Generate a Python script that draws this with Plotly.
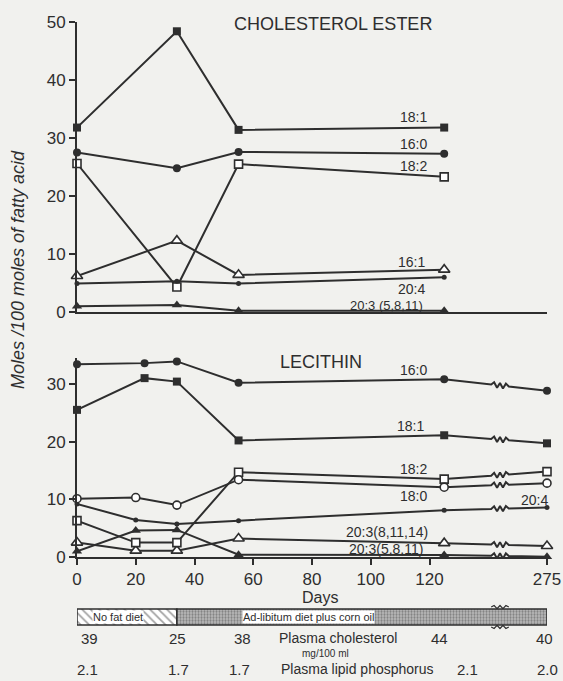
import plotly.graph_objects as go

# ---------------- data ----------------
ce_days = [0, 34, 55, 125]
ce_181 = [31.8, 48.4, 31.4, 31.8]
ce_160 = [27.5, 24.8, 27.6, 27.3]
ce_182 = [25.6, 4.3, 25.5, 23.3]
ce_161 = [6.2, 12.3, 6.4, 7.3]
ce_204 = [4.9, 5.3, 4.9, 6.0]
ce_203_5811 = [1.0, 1.2, 0.2, 0.2]

lec_days_a = [0, 23, 34, 55, 125, 275]
lec_days_b = [0, 20, 34, 55, 125, 275]
lec_160 = [33.4, 33.6, 33.9, 30.2, 30.8, 28.8]
lec_181 = [25.5, 31.0, 30.4, 20.2, 21.1, 19.7]
lec_182 = [6.3, 2.5, 2.5, 14.7, 13.5, 14.8]
lec_180 = [10.1, 10.3, 9.0, 13.4, 12.1, 12.8]
lec_204 = [9.2, 6.4, 5.7, 6.3, 8.1, 8.6]
lec_203_81114 = [2.5, 1.1, 1.1, 3.2, 2.4, 1.9]
lec_203_5811 = [1.0, 4.6, 4.7, 0.4, 0.35, 0.05]

x_tick_days = [0, 20, 40, 60, 80, 100, 120, 275]

diet_names = ["No fat diet", "Ad-libitum diet plus corn oil"]
diet_start = [0, 34]
diet_end = [34, 275]

plasma_chol_lbl = ["39", "25", "38", "44", "40"]
phos_lbl = ["2.1", "1.7", "1.7", "2.1", "2.0"]

# ---------------- broken axis scale ----------------
BREAK_AT = 125      # last day drawn on the linear part
BROKEN_POS = 160    # axis position used for day 275
ZIG_X0, ZIG_STEP = 141.0, 1.0
ZIG = [0, 1, -1, 1, -1, 1, 0]


def pos(d):
    return d if d <= BREAK_AT else BROKEN_POS


def broken_line(days, vals, amp):
    xs, ys = [], []
    for i, (d, v) in enumerate(zip(days, vals)):
        if i > 0 and days[i - 1] <= BREAK_AT < d:
            x0, y0 = pos(days[i - 1]), vals[i - 1]
            x1, y1 = pos(d), v
            for k, off in enumerate(ZIG):
                xz = ZIG_X0 + k * ZIG_STEP
                yz = y0 + (y1 - y0) * (xz - x0) / (x1 - x0) + off * amp
                xs.append(xz)
                ys.append(yz)
        xs.append(pos(d))
        ys.append(v)
    return xs, ys


INK = "#2e2e2e"
PAPER = "#f1f1ee"
FONT = "Liberation Sans, Arial, sans-serif"

fig = go.Figure()

MK = {
    "fsq": dict(symbol="square", size=8, color=INK),
    "fci": dict(symbol="circle", size=8, color=INK),
    "osq": dict(symbol="square", size=8, color="white", line=dict(color=INK, width=1.6)),
    "oci": dict(symbol="circle", size=8, color="white", line=dict(color=INK, width=1.6)),
    "otr": dict(symbol="triangle-up", size=10, color="white", line=dict(color=INK, width=1.6)),
    "ftr": dict(symbol="triangle-up", size=9, color=INK),
    "dot": dict(symbol="circle", size=5, color=INK),
}


def add_series(days, vals, mk, xa, ya, amp=None):
    if amp is None:
        xs, ys = [pos(d) for d in days], vals
    else:
        xs, ys = broken_line(days, vals, amp)
    fig.add_trace(go.Scatter(x=xs, y=ys, mode="lines", line=dict(color=INK, width=2),
                             xaxis=xa, yaxis=ya, showlegend=False, hoverinfo="skip"))
    fig.add_trace(go.Scatter(x=[pos(d) for d in days], y=vals, mode="markers",
                             marker=MK[mk], xaxis=xa, yaxis=ya, cliponaxis=False,
                             showlegend=False))


# top panel
add_series(ce_days, ce_181, "fsq", "x", "y")
add_series(ce_days, ce_160, "fci", "x", "y")
add_series(ce_days, ce_182, "osq", "x", "y")
add_series(ce_days, ce_161, "otr", "x", "y")
add_series(ce_days, ce_204, "dot", "x", "y")
add_series(ce_days, ce_203_5811, "ftr", "x", "y")

# bottom panel
A = 0.45
add_series(lec_days_a, lec_160, "fci", "x2", "y2", A)
add_series(lec_days_a, lec_181, "fsq", "x2", "y2", A)
add_series(lec_days_b, lec_204, "dot", "x2", "y2", A)
add_series(lec_days_b, lec_203_5811, "ftr", "x2", "y2", A)
add_series(lec_days_b, lec_203_81114, "otr", "x2", "y2", A)
add_series(lec_days_b, lec_182, "osq", "x2", "y2", A)
add_series(lec_days_b, lec_180, "oci", "x2", "y2", A)

# diet bar
fig.add_trace(go.Bar(
    y=[0, 0], base=[pos(s) for s in diet_start],
    x=[pos(e) - pos(s) for s, e in zip(diet_start, diet_end)],
    orientation="h", width=1, xaxis="x3", yaxis="y3", showlegend=False,
    marker=dict(color=["white", "#bdbdbd"], line=dict(color=INK, width=1.5),
                pattern=dict(shape=["\\", "."], size=[6, 3], solidity=[0.3, 0.45],
                             fgcolor=[INK, "#5a5a5a"], bgcolor=["white", "#d4d4d4"])),
))
# break marks on the diet bar (above top edge and below bottom edge)
for sgn in (1, -1):
    xs = [ZIG_X0 + k * ZIG_STEP for k in range(len(ZIG))]
    ys = [sgn * (0.5 + 0.12 + 0.1 * off) for off in ZIG]
    fig.add_trace(go.Scatter(x=xs, y=ys, mode="lines", line=dict(color=INK, width=1.2),
                             xaxis="x3", yaxis="y3", showlegend=False, hoverinfo="skip"))

XD = [77 / 563, 547 / 563]
axis_common = dict(showline=True, linecolor=INK, linewidth=2, showgrid=False, zeroline=False,
                   automargin=False, tickfont=dict(family=FONT, size=17, color=INK))

Y2MAX = 34.5
fig.update_layout(
    width=563, height=681, autosize=False,
    margin=dict(l=0, r=0, t=0, b=0, pad=0),
    paper_bgcolor=PAPER, plot_bgcolor=PAPER,
    barmode="overlay",
    font=dict(family=FONT, color=INK),
    xaxis=dict(domain=XD, range=[0, BROKEN_POS], anchor="y", showticklabels=False,
               ticks="", **axis_common),
    yaxis=dict(domain=[(681 - 312) / 681, (681 - 22) / 681], range=[0, 50], anchor="x",
               tickvals=[0, 10, 20, 30, 40, 50], ticks="outside", ticklen=6, tickwidth=2,
               tickcolor=INK, **axis_common),
    xaxis2=dict(domain=XD, range=[0, BROKEN_POS], anchor="y2",
                tickvals=[pos(d) for d in x_tick_days], ticktext=[str(d) for d in x_tick_days],
                ticks="outside", ticklen=6, tickwidth=2, tickcolor=INK, **axis_common),
    yaxis2=dict(domain=[(681 - 557) / 681, (681 - (557 - Y2MAX * 5.77)) / 681],
                range=[0, Y2MAX], anchor="x2",
                tickvals=[0, 10, 20, 30], ticks="outside", ticklen=6, tickwidth=2,
                tickcolor=INK, **axis_common),
    xaxis3=dict(domain=XD, range=[0, BROKEN_POS], anchor="y3", visible=False),
    yaxis3=dict(domain=[(681 - 629.8) / 681, (681 - 604.2) / 681], range=[-0.8, 0.8],
                anchor="x3", visible=False),
)

ann = []


def lab(text, x, y, xref, yref, size=14, **kw):
    ann.append(dict(text=text, x=x, y=y, xref=xref, yref=yref, showarrow=False,
                    xanchor="center", yanchor="middle",
                    font=dict(family=FONT, size=size, color=INK), **kw))


# panel titles
lab("CHOLESTEROL ESTER", 87, 49.6, "x", "y", size=18)
lab("LECITHIN", 83, 33.8, "x2", "y2", size=18)

# top labels
lab("18:1", 114.4, 33.6, "x", "y")
lab("16:0", 114.4, 29.0, "x", "y")
lab("18:2", 114.4, 25.2, "x", "y")
lab("16:1", 114.0, 8.6, "x", "y")
lab("20:4", 114.0, 4.0, "x", "y")
lab("20:3 (5,8,11)", 105.5, 1.1, "x", "y", size=13)

# bottom labels
lab("16:0", 114.7, 32.4, "x2", "y2")
lab("18:1", 113.4, 22.7, "x2", "y2")
lab("18:2", 114.4, 15.3, "x2", "y2")
lab("18:0", 114.4, 10.6, "x2", "y2")
lab("20:4", 155.9, 9.9, "x2", "y2")
lab("20:3(8,11,14)", 105.5, 4.3, "x2", "y2")
lab("20:3(5,8,11)", 105.2, 1.4, "x2", "y2")

# axis titles
lab("<i>Moles /100 moles of fatty acid</i>", 18 / 563, (681 - 270) / 681, "paper", "paper",
    size=18, textangle=-90)
lab("Days", 320 / 563, (681 - 597) / 681, "paper", "paper", size=16)

# diet labels (on the bar)
lab(diet_names[0], 14.0, 0, "x3", "y3", size=11, bgcolor="white", borderpad=0)
lab(diet_names[1], 78.8, 0, "x3", "y3", size=11, bgcolor="white", borderpad=0)

# plasma rows
row1_x = [89, 177, 242, 439, 544]
row2_x = [87, 178, 240, 467, 547]
for t, px in zip(plasma_chol_lbl, row1_x):
    lab(t, px / 563, (681 - 638) / 681, "paper", "paper", size=15)
for t, px in zip(phos_lbl, row2_x):
    lab(t, px / 563, (681 - 669) / 681, "paper", "paper", size=15)
lab("Plasma cholesterol", 338 / 563, (681 - 638) / 681, "paper", "paper", size=14)
lab("mg/100 ml", 325 / 563, (681 - 653) / 681, "paper", "paper", size=10)
lab("Plasma lipid phosphorus", 357 / 563, (681 - 669) / 681, "paper", "paper", size=14)

fig.update_layout(annotations=ann)
fig.write_html(
    "out.html",
    config={"displayModeBar": False},
    post_script="document.body.style.margin='0';document.body.style.overflow='hidden';",
)
